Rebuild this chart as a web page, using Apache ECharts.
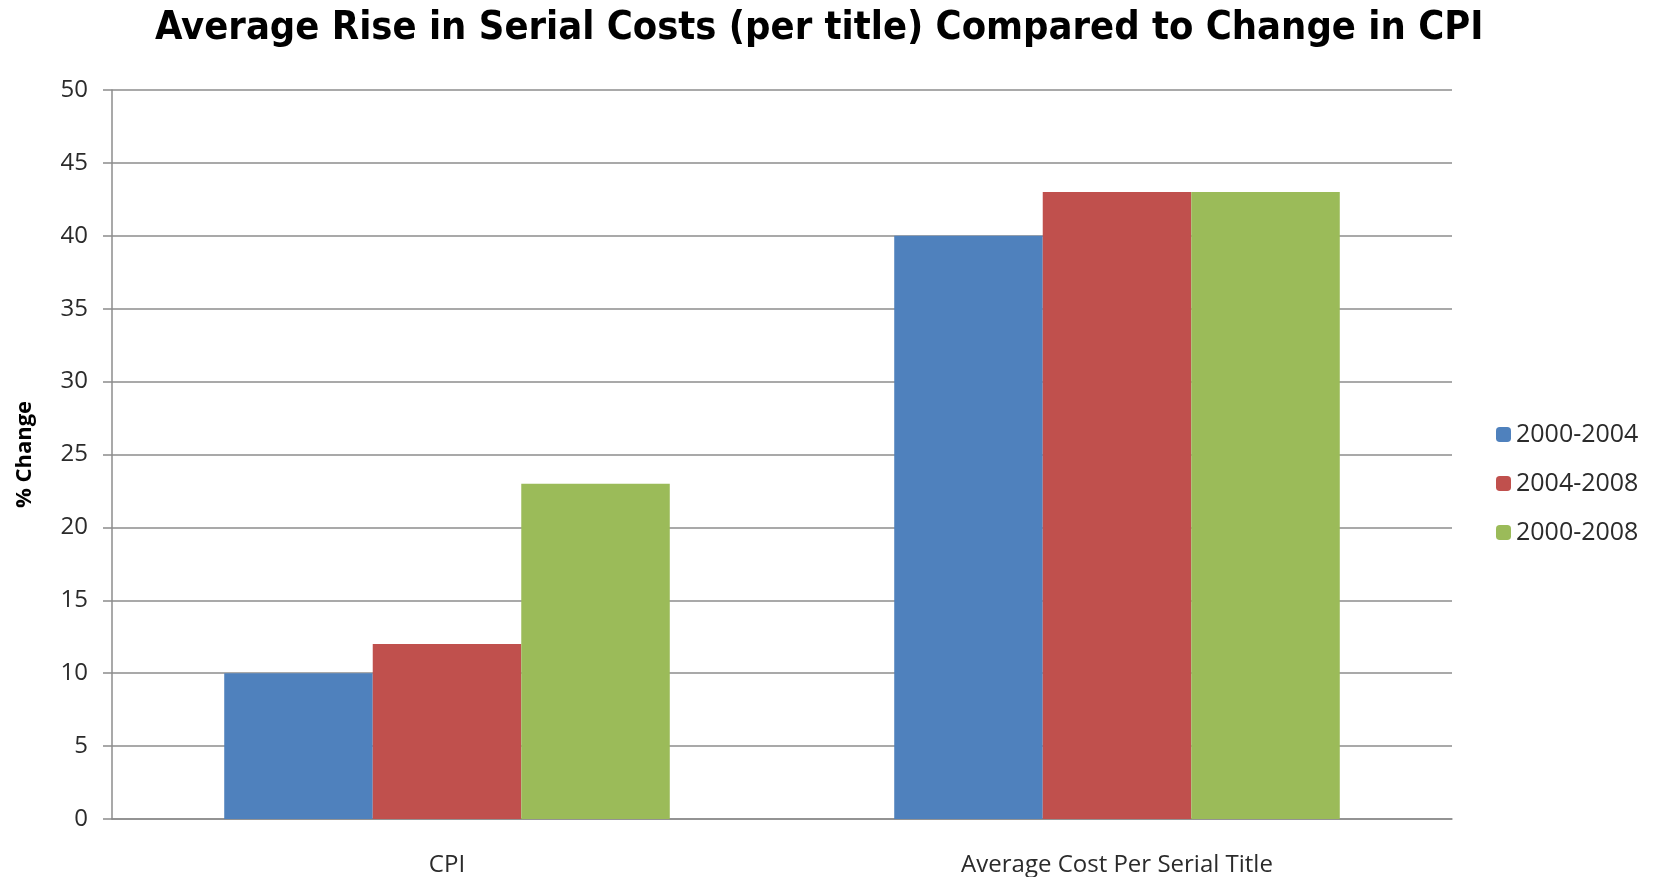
<!DOCTYPE html>
<html>
<head>
<meta charset="utf-8">
<script src="https://cdn.jsdelivr.net/npm/echarts@6/dist/echarts.min.js"></script>
<style>
    html, body { margin: 0; padding: 0; background: #fff; }
    #chart { width: 1656px; height: 877px; }
</style>
</head>
<body>
<div id="chart"></div>
<script>
const categories = ['CPI', 'Average Cost Per Serial Title'];
const seriesNames = ['2000-2004', '2004-2008', '2000-2008'];
const values2000to2004 = [10, 40];
const values2004to2008 = [12, 43];
const values2000to2008 = [23, 43];
const seriesColors = ['#4F81BD', '#C0504D', '#9BBB59'];

const textColor = '#2b2b2b';
const lineColor = '#8c8c8c';

const chart = echarts.init(document.getElementById('chart'));

const seriesData = [values2000to2004, values2004to2008, values2000to2008];

const option = {
    animation: false,
    title: {
        text: 'Average Rise in Serial Costs (per title) Compared to Change in CPI',
        left: 150,
        top: 4,
        textStyle: {
            fontFamily: 'DejaVu Sans Condensed',
            fontWeight: 'bold',
            fontSize: 39.5,
            color: '#000'
        }
    },
    legend: {
        data: seriesNames,
        orient: 'vertical',
        left: 1491,
        top: 417,
        itemWidth: 15,
        itemHeight: 15,
        itemGap: 24,
        textStyle: {
            fontFamily: 'Open Sans',
            fontSize: 25,
            color: textColor
        }
    },
    grid: {
        left: 112,
        right: 204,
        top: 90,
        bottom: 57,
        containLabel: false
    },
    xAxis: {
        type: 'category',
        data: categories,
        axisLine: {
            lineStyle: { color: lineColor, width: 1.5 }
        },
        axisTick: {
            length: 10,
            lineStyle: { color: lineColor, width: 1.5 }
        },
        axisLabel: {
            margin: 34,
            fontFamily: 'Open Sans',
            fontSize: 24,
            color: textColor
        }
    },
    yAxis: {
        type: 'value',
        min: 0,
        max: 50,
        interval: 5,
        name: '% Change',
        nameLocation: 'middle',
        nameGap: 76,
        nameRotate: 90,
        nameTextStyle: {
            fontFamily: 'Open Sans',
            fontWeight: 'bold',
            fontSize: 22,
            color: '#000'
        },
        axisLine: {
            show: true,
            lineStyle: { color: lineColor, width: 1.5 }
        },
        axisTick: {
            show: true,
            length: 9,
            lineStyle: { color: lineColor, width: 1.5 }
        },
        axisLabel: {
            margin: 24,
            fontFamily: 'Open Sans',
            fontSize: 24,
            color: textColor
        },
        splitLine: {
            lineStyle: { color: lineColor, width: 1.5 }
        }
    },
    series: seriesNames.map(function (name, i) {
        return {
            name: name,
            type: 'bar',
            data: seriesData[i],
            barGap: '0%',
            barCategoryGap: '33.5%',
            itemStyle: { color: seriesColors[i] }
        };
    })
};

chart.setOption(option);
window.addEventListener('resize', function () {
    chart.resize();
});
</script>
</body>
</html>
